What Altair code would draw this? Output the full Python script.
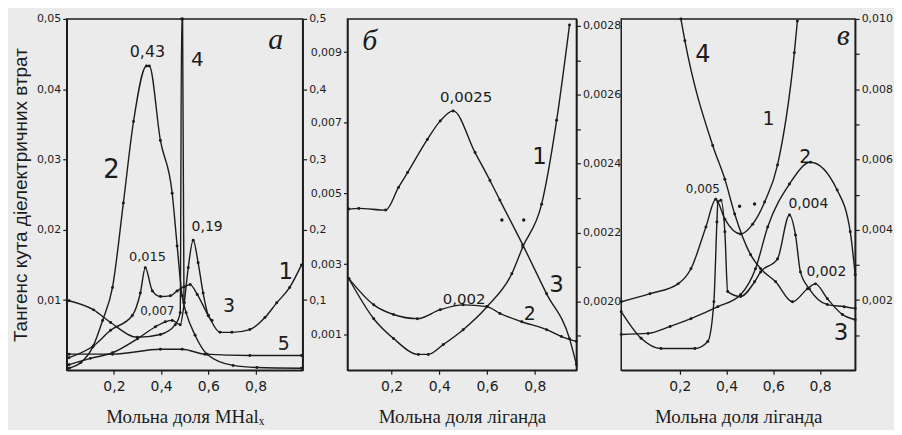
import altair as alt
import pandas as pd

INK = "#1c1c1c"

# ---------------- panel а  (x: mole fraction MHal_x) ----------------
a_c1_x = [0.01, 0.114, 0.186, 0.278, 0.312, 0.333, 0.363, 0.397, 0.439, 0.468, 0.498,
          0.523, 0.553, 0.60, 0.65, 0.70, 0.776, 0.84, 0.89, 0.945, 0.995]
a_c1_y = [0.0018, 0.0035, 0.0057, 0.0078, 0.011, 0.0146, 0.0113, 0.0105, 0.0106, 0.0113, 0.0119,
          0.0122, 0.0108, 0.0078, 0.0054, 0.0054, 0.0058, 0.0075, 0.0096, 0.0118, 0.0150]
# curve 2 is read on the right-hand scale (0 ... 0.5)
a_c2_x = [0.01, 0.06, 0.11, 0.152, 0.194, 0.24, 0.283, 0.338, 0.35, 0.397, 0.447, 0.468,
          0.489, 0.506, 0.544, 0.595, 0.705, 0.806, 0.995]
a_c2_y = [0.003, 0.011, 0.033, 0.071, 0.118, 0.238, 0.354, 0.433, 0.433, 0.327, 0.252, 0.177,
          0.106, 0.082, 0.05, 0.023, 0.007, 0.004, 0.003]
a_c3_x = [0.01, 0.10, 0.194, 0.30, 0.376, 0.418, 0.447, 0.481, 0.498, 0.515, 0.536, 0.557,
          0.578, 0.60, 0.616]
a_c3_y = [0.0008, 0.0017, 0.0025, 0.0045, 0.0062, 0.0069, 0.0071, 0.0065, 0.0096, 0.0146,
          0.0185, 0.0153, 0.011, 0.0078, 0.0071]
a_c4_x = [0.01, 0.114, 0.186, 0.30, 0.397, 0.46, 0.481, 0.487, 0.491, 0.497]
a_c4_y = [0.0099, 0.0086, 0.0068, 0.0047, 0.0051, 0.0065, 0.0082, 0.05, 0.05, 0.0096]
a_c5_x = [0.01, 0.194, 0.397, 0.489, 0.586, 0.776, 0.995]
a_c5_y = [0.0023, 0.0023, 0.003, 0.003, 0.0023, 0.0021, 0.0021]

a_left_ticks = [0.01, 0.02, 0.03, 0.04, 0.05]
a_right_ticks = [0.1, 0.2, 0.3, 0.4, 0.5]
a_labels = [  # x, y (left scale), text, font size
    (0.342, 0.0453, "0,43", 16), (0.19, 0.0285, "2", 26), (0.553, 0.0442, "4", 20),
    (0.342, 0.0161, "0,015", 13), (0.595, 0.0204, "0,19", 14), (0.384, 0.0084, "0,007", 12),
    (0.928, 0.0140, "1", 23), (0.688, 0.0092, "3", 19), (0.92, 0.0038, "5", 19),
]
a_letter = [(0.886, 0.0470, "а", 30)]

# ---------------- panel б  (x: mole fraction of ligand) ----------------
b_c1_x = [0.021, 0.125, 0.208, 0.3125, 0.354, 0.417, 0.5, 0.6, 0.704, 0.75, 0.829, 0.892, 0.946]
b_c1_y = [0.00259, 0.00146, 0.0009, 0.00045, 0.00045, 0.00073, 0.00115, 0.0018, 0.00273,
          0.00349, 0.0047, 0.00707, 0.00977]
b_dots_x = [0.6625, 0.754]
b_dots_y = [0.00425, 0.00425]
# curves 2 and 3 are read on the right-hand scale (0.0018 ... 0.0028)
b_c2_x = [0.021, 0.125, 0.208, 0.308, 0.404, 0.5, 0.6, 0.654, 0.746, 0.85, 0.912, 0.975]
b_c2_y = [0.002066, 0.00199, 0.001962, 0.00195, 0.001976, 0.00199, 0.001985, 0.001965,
          0.001941, 0.001918, 0.001898, 0.001884]
b_c3_x = [0.021, 0.0625, 0.175, 0.229, 0.267, 0.35, 0.404, 0.458, 0.55, 0.6125, 0.654, 0.75,
          0.85, 0.946, 0.975]
b_c3_y = [0.002268, 0.00227, 0.002265, 0.002331, 0.002374, 0.00247, 0.002524, 0.002553,
          0.002432, 0.002351, 0.002294, 0.002164, 0.002022, 0.001892, 0.001817]

b_left_ticks = [0.001, 0.003, 0.005, 0.007, 0.009]
b_right_ticks = [0.0019, 0.0020, 0.0021, 0.0022, 0.0023, 0.0024, 0.0025, 0.0026, 0.0027, 0.0028]
b_labels = [
    (0.5125, 0.00772, "0,0025", 15), (0.82, 0.00603, "1", 23), (0.892, 0.00242, "3", 23),
    (0.504, 0.00203, "0,002", 15), (0.779, 0.00158, "2", 19),
]
b_letter = [(0.108, 0.00932, "б", 30)]

# ---------------- panel в  (x: mole fraction of ligand) ----------------
c_c1_x = [-0.05, 0.073, 0.193, 0.248, 0.312, 0.354, 0.393, 0.46, 0.512, 0.563, 0.618, 0.69, 0.703]
c_c1_y = [0.00195, 0.00218, 0.00246, 0.00289, 0.00408, 0.00487, 0.0043, 0.00388, 0.00416,
          0.00479, 0.00584, 0.00904, 0.00994]
c_c2_x = [-0.05, 0.065, 0.159, 0.248, 0.363, 0.46, 0.524, 0.576, 0.669, 0.759, 0.873, 0.929, 0.95]
c_c2_y = [0.00102, 0.00105, 0.00125, 0.00147, 0.00181, 0.00215, 0.00289, 0.00408, 0.0053,
          0.00592, 0.00513, 0.00394, 0.00272]
c_c3_x = [-0.05, 0.035, 0.12, 0.265, 0.32, 0.346, 0.359, 0.363, 0.376, 0.393, 0.405, 0.46,
          0.52, 0.546, 0.618, 0.669, 0.695, 0.716, 0.754, 0.831, 0.903, 0.95]
c_c3_y = [0.00167, 0.00091, 0.00062, 0.00062, 0.00082, 0.00195, 0.00422, 0.00479, 0.00484,
          0.00394, 0.00224, 0.0021, 0.00252, 0.0028, 0.00317, 0.00442, 0.00385, 0.0028,
          0.00232, 0.00187, 0.00181, 0.00176]
c_c4_x = [0.205, 0.222, 0.341, 0.393, 0.435, 0.503, 0.546, 0.61, 0.682, 0.746, 0.78, 0.831,
          0.895, 0.95]
c_c4_y = [0.0100, 0.00938, 0.0064, 0.00544, 0.00445, 0.00329, 0.00289, 0.00252, 0.00195,
          0.00232, 0.00246, 0.00204, 0.00159, 0.00144]
c_dots_x = [0.456, 0.52]
c_dots_y = [0.00467, 0.00473]

c_right_ticks = [0.001, 0.002, 0.003, 0.004, 0.005, 0.006, 0.007, 0.008, 0.009, 0.010]
c_labels = [
    (0.299, 0.00898, "4", 24), (0.58, 0.00714, "1", 19), (0.737, 0.00606, "2", 19),
    (0.299, 0.00516, "0,005", 12), (0.75, 0.00473, "0,004", 14), (0.827, 0.0028, "0,002", 14),
    (0.89, 0.00105, "3", 23),
]
c_letter = [(0.899, 0.00952, "в", 30)]

x_ticks = [0.2, 0.4, 0.6, 0.8]
y_title = "Тангенс кута діелектричних втрат"
a_x_title = "Мольна доля  MHalₓ"
bc_x_title = "Мольна доля лiганда"


# ---------------- helpers ----------------
def curves_df(curves):
    rows = []
    for name, xs, ys in curves:
        for x, y in zip(xs, ys):
            rows.append({"curve": name, "x": x, "y": y})
    return pd.DataFrame(rows)


def labels_df(items):
    return pd.DataFrame(items, columns=["x", "y", "text", "size"])


def comma(fmt):
    return f"replace(format(datum.value, '{fmt}'), '.', ',')"


def x_enc(domain, title):
    return alt.X(
        "x:Q",
        scale=alt.Scale(domain=domain, nice=False, zero=False),
        axis=alt.Axis(values=x_ticks, labelExpr=comma(".1f"), title=title,
                      tickSize=4, labelPadding=5, labelFontSize=14,
                      titleFont="Liberation Serif", titleFontSize=19,
                      titleFontWeight="normal", titlePadding=14),
    )


def y_enc(domain, axis):
    return alt.Y("y:Q", scale=alt.Scale(domain=domain, nice=False, zero=False), axis=axis)


def group(df_lines, xe, ye, df_dots=None, df_text=None, df_letter=None):
    parts = [
        alt.Chart(df_lines).mark_line(interpolate="monotone", color=INK, strokeWidth=1.4)
        .encode(x=xe, y=ye, detail="curve:N"),
        alt.Chart(df_lines).mark_circle(color=INK, size=9, opacity=1).encode(x=xe, y=ye),
    ]
    if df_dots is not None:
        parts.append(alt.Chart(df_dots).mark_circle(color=INK, size=12, opacity=1).encode(x=xe, y=ye))
    if df_text is not None:
        parts.append(alt.Chart(df_text).mark_text(color=INK, font="DejaVu Sans")
                     .encode(x=xe, y=ye, text="text:N", size=alt.Size("size:Q", scale=None)))
    if df_letter is not None:
        parts.append(alt.Chart(df_letter).mark_text(color=INK, font="Liberation Serif",
                                                    fontStyle="italic")
                     .encode(x=xe, y=ye, text="text:N", size=alt.Size("size:Q", scale=None)))
    return alt.layer(*parts)


H = 353

# ---------------- panel а ----------------
xa = x_enc([0, 1], a_x_title)
ya_left = y_enc([0, 0.05], alt.Axis(values=a_left_ticks, labelExpr=comma(".2f"), orient="left",
                                    title=y_title, titleFont="Liberation Sans", titleFontSize=19,
                                    titleFontWeight="normal", titlePadding=6, tickSize=4,
                                    labelPadding=2, labelFontSize=11))
ya_right = y_enc([0, 0.5], alt.Axis(values=a_right_ticks, labelExpr=comma(".1f"), orient="right",
                                    title=None, tickSize=4, labelPadding=2, labelFontSize=11))
pa_left = group(
    curves_df([("1", a_c1_x, a_c1_y), ("3", a_c3_x, a_c3_y), ("4", a_c4_x, a_c4_y),
               ("5", a_c5_x, a_c5_y)]),
    xa, ya_left, df_text=labels_df(a_labels), df_letter=labels_df(a_letter))
pa_right = group(curves_df([("2", a_c2_x, a_c2_y)]), xa, ya_right)
panel_a = alt.layer(pa_left, pa_right).resolve_scale(y="independent").properties(width=237, height=H)

# ---------------- panel б ----------------
xb = x_enc([0.015, 0.975], bc_x_title)
yb_left = y_enc([0, 0.00994], alt.Axis(values=b_left_ticks, labelExpr=comma(".3f"), orient="left",
                                       title=None, tickSize=4, labelPadding=2, labelFontSize=11))
yb_right = y_enc([0.0018, 0.00282], alt.Axis(
    values=b_right_ticks, orient="right", title=None, tickSize=4, labelPadding=2, labelFontSize=11,
    labelExpr="round(datum.value*10000) % 2 == 0 ? replace(format(datum.value, '.4f'), '.', ',') : ''"))
pb_left = group(curves_df([("1", b_c1_x, b_c1_y)]), xb, yb_left,
                df_dots=pd.DataFrame({"x": b_dots_x, "y": b_dots_y}),
                df_text=labels_df(b_labels), df_letter=labels_df(b_letter))
pb_right = group(curves_df([("2", b_c2_x, b_c2_y), ("3", b_c3_x, b_c3_y)]), xb, yb_right)
panel_b = alt.layer(pb_left, pb_right).resolve_scale(y="independent").properties(width=230, height=H)

# ---------------- panel в ----------------
xc = x_enc([-0.05, 0.95], bc_x_title)
yc = y_enc([0, 0.010], alt.Axis(
    values=c_right_ticks, orient="right", title=None, tickSize=4, labelPadding=2, labelFontSize=11,
    labelExpr="round(datum.value*1000) % 2 == 0 ? replace(format(datum.value, '.3f'), '.', ',') : ''"))
panel_c = group(
    curves_df([("1", c_c1_x, c_c1_y), ("2", c_c2_x, c_c2_y), ("3", c_c3_x, c_c3_y),
               ("4", c_c4_x, c_c4_y)]),
    xc, yc, df_dots=pd.DataFrame({"x": c_dots_x, "y": c_dots_y}),
    df_text=labels_df(c_labels), df_letter=labels_df(c_letter)).properties(width=235, height=H)

chart = (
    alt.hconcat(panel_a, panel_b, panel_c, spacing=45, bounds="flush")
    .properties(background="#ebebeb", padding={"left": 2, "top": 3, "right": 0, "bottom": 2})
    .configure_view(stroke=INK, strokeWidth=1.5)
    .configure_axis(labelFont="DejaVu Sans", labelColor=INK, tickColor=INK, domainColor=INK,
                    domainWidth=1.5, tickWidth=1.2, grid=False, titleColor=INK)
)

chart.save("out.html", embed_options={"renderer": "svg", "actions": False})
